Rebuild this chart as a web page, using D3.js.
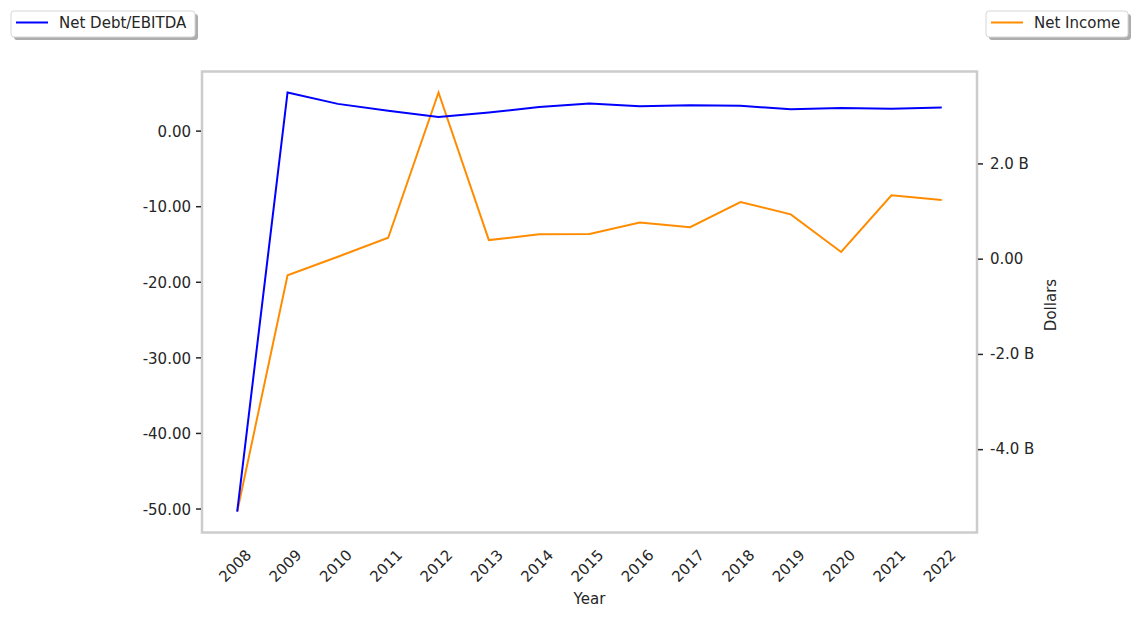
<!DOCTYPE html>
<html>
<head>
<meta charset="utf-8">
<script src="https://cdn.jsdelivr.net/npm/d3@7"></script>
<style>
  html, body { margin: 0; padding: 0; background: #ffffff; }
  svg { display: block; font-family: "DejaVu Sans", sans-serif; }
</style>
</head>
<body>
<svg id="chart" width="1138" height="618"></svg>
<script>
// ---- data ----
const years = [2008, 2009, 2010, 2011, 2012, 2013, 2014, 2015, 2016, 2017, 2018, 2019, 2020, 2021, 2022];
const netDebtEbitda = [-50.4, 5.05, 3.54, 2.62, 1.79, 2.41, 3.11, 3.60, 3.24, 3.37, 3.28, 2.84, 2.98, 2.88, 3.07];
const netIncome = [-5.31e9, -0.35e9, 0.04e9, 0.44e9, 3.49e9, 0.39e9, 0.51e9, 0.52e9, 0.76e9, 0.66e9, 1.19e9, 0.93e9, 0.14e9, 1.33e9, 1.23e9];
const leftTicks = [0, -10, -20, -30, -40, -50];
const rightTicks = [2e9, 0, -2e9, -4e9];
const seriesNames = ["Net Debt/EBITDA", "Net Income"];
const seriesColors = ["#0000ff", "#ff8c00"];

// ---- layout ----
const svg = d3.select("#chart");
const plot = { left: 202, right: 977, top: 71.5, bottom: 532.5 };
const textColor = "#262626";
const fontSize = 15;

function padded(ext, frac) {
  const r = ext[1] - ext[0];
  return [ext[0] - r * frac, ext[1] + r * frac];
}

const x = d3.scaleLinear().domain(padded(d3.extent(years), 0.05)).range([plot.left, plot.right]);
const yL = d3.scaleLinear().domain(padded(d3.extent(netDebtEbitda), 0.05)).range([plot.bottom, plot.top]);
const yR = d3.scaleLinear().domain(padded(d3.extent(netIncome), 0.05)).range([plot.bottom, plot.top]);

// frame
svg.append("rect")
  .attr("x", plot.left).attr("y", plot.top)
  .attr("width", plot.right - plot.left).attr("height", plot.bottom - plot.top)
  .attr("fill", "none").attr("stroke", "#cccccc").attr("stroke-width", 2.5);

// left axis
const leftAxis = d3.axisLeft(yL).tickValues(leftTicks).tickFormat(d => d.toFixed(2))
  .tickSizeInner(5).tickSizeOuter(0).tickPadding(5);
const gL = svg.append("g").attr("transform", `translate(${plot.left - 1},0)`).call(leftAxis);
gL.select(".domain").remove();
gL.selectAll(".tick line").attr("stroke", textColor).attr("stroke-width", 1.5);
gL.selectAll(".tick text").attr("fill", textColor).attr("font-size", fontSize).attr("font-family", "DejaVu Sans")
  .attr("dy", "0.38em");

// right axis
const rightFmt = d => d === 0 ? "0.00" : (d / 1e9).toFixed(1) + " B";
const rightAxis = d3.axisRight(yR).tickValues(rightTicks).tickFormat(rightFmt)
  .tickSizeInner(5).tickSizeOuter(0).tickPadding(7);
const gR = svg.append("g").attr("transform", `translate(${plot.right + 1},0)`).call(rightAxis);
gR.select(".domain").remove();
gR.selectAll(".tick line").attr("stroke", textColor).attr("stroke-width", 1.5);
gR.selectAll(".tick text").attr("fill", textColor).attr("font-size", fontSize).attr("font-family", "DejaVu Sans");

// x axis labels (rotated)
const xAxisG = svg.append("g");
xAxisG.selectAll("text").data(years).enter().append("text")
  .attr("transform", d => `translate(${x(d) - 2},566) rotate(-45)`)
  .attr("text-anchor", "middle")
  .attr("dominant-baseline", "central")
  .attr("fill", textColor).attr("font-size", fontSize)
  .text(d => d);

// axis titles
svg.append("text").attr("x", (plot.left + plot.right) / 2).attr("y", 604)
  .attr("text-anchor", "middle").attr("fill", textColor).attr("font-size", fontSize).text("Year");
svg.append("text").attr("transform", "translate(1056,305) rotate(-90)")
  .attr("text-anchor", "middle").attr("fill", textColor).attr("font-size", fontSize).text("Dollars");

// lines
const lineL = d3.line().x((d, i) => x(years[i])).y(d => yL(d));
const lineR = d3.line().x((d, i) => x(years[i])).y(d => yR(d));
svg.append("path").datum(netIncome).attr("d", lineR)
  .attr("fill", "none").attr("stroke", seriesColors[1]).attr("stroke-width", 2);
svg.append("path").datum(netDebtEbitda).attr("d", lineL)
  .attr("fill", "none").attr("stroke", seriesColors[0]).attr("stroke-width", 2);

// legends
function legend(x0, y0, w, h, name, color) {
  const g = svg.append("g");
  g.append("rect").attr("x", x0 + 3).attr("y", y0 + 3).attr("width", w).attr("height", h)
    .attr("rx", 3).attr("fill", "#999999").attr("opacity", 0.8);
  g.append("rect").attr("x", x0).attr("y", y0).attr("width", w).attr("height", h)
    .attr("rx", 3).attr("fill", "#ffffff").attr("stroke", "#d6d6d6").attr("stroke-width", 1);
  g.append("line").attr("x1", x0 + 5).attr("x2", x0 + 37).attr("y1", y0 + 11.5).attr("y2", y0 + 11.5)
    .attr("stroke", color).attr("stroke-width", 2);
  g.append("text").attr("x", x0 + 48).attr("y", y0 + 17).attr("fill", textColor)
    .attr("font-size", fontSize).text(name);
}
legend(11, 11, 184, 26, seriesNames[0], seriesColors[0]);
legend(986, 11, 142, 26, seriesNames[1], seriesColors[1]);
</script>
</body>
</html>
